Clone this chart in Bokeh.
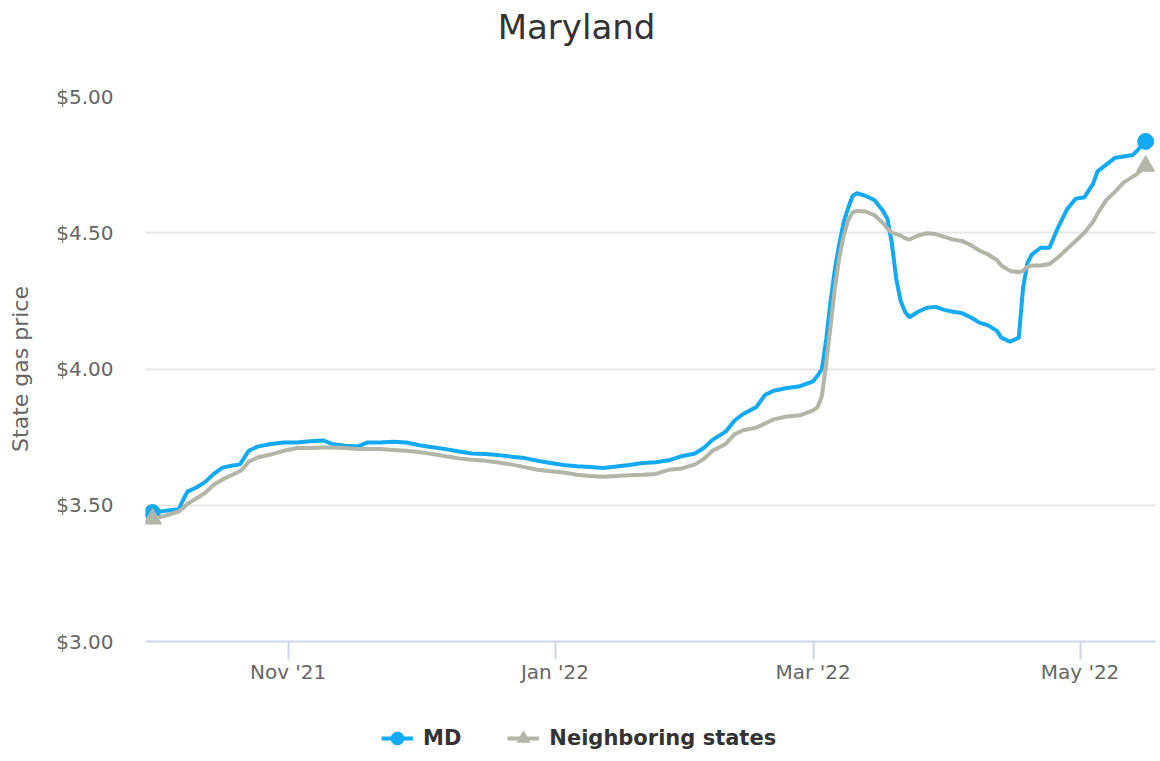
from datetime import datetime, timedelta
import pandas as pd
from bokeh.plotting import figure
from bokeh.layouts import column
from bokeh.models import (ColumnDataSource, Range1d, FixedTicker, Legend, LegendItem, Label)
from bokeh.embed import file_html
from bokeh.resources import INLINE

# ---------------- data ----------------
dates = [
    "2021-10-01", "2021-10-04", "2021-10-07", "2021-10-08", "2021-10-09", "2021-10-11", "2021-10-13",
    "2021-10-15", "2021-10-17", "2021-10-19", "2021-10-21", "2021-10-22", "2021-10-23", "2021-10-25",
    "2021-10-28", "2021-10-31",
    "2021-11-03", "2021-11-06", "2021-11-09", "2021-11-11", "2021-11-14", "2021-11-17", "2021-11-19",
    "2021-11-22", "2021-11-25", "2021-11-28",
    "2021-12-01", "2021-12-04", "2021-12-07", "2021-12-10", "2021-12-13", "2021-12-16", "2021-12-19",
    "2021-12-22", "2021-12-25", "2021-12-28", "2021-12-31",
    "2022-01-03", "2022-01-06", "2022-01-09", "2022-01-12", "2022-01-15", "2022-01-18", "2022-01-21",
    "2022-01-24", "2022-01-27", "2022-01-30",
    "2022-02-02", "2022-02-04", "2022-02-06", "2022-02-09", "2022-02-11", "2022-02-13", "2022-02-16",
    "2022-02-18", "2022-02-20", "2022-02-23", "2022-02-26",
    "2022-03-01", "2022-03-02", "2022-03-03", "2022-03-04", "2022-03-05", "2022-03-06", "2022-03-07",
    "2022-03-08", "2022-03-09", "2022-03-10", "2022-03-11", "2022-03-13", "2022-03-15", "2022-03-17",
    "2022-03-18", "2022-03-19", "2022-03-20", "2022-03-21", "2022-03-22", "2022-03-23", "2022-03-25",
    "2022-03-27", "2022-03-29", "2022-03-31",
    "2022-04-02", "2022-04-04", "2022-04-06", "2022-04-08", "2022-04-10", "2022-04-12", "2022-04-13",
    "2022-04-15", "2022-04-17", "2022-04-18", "2022-04-19", "2022-04-20", "2022-04-22", "2022-04-24",
    "2022-04-26", "2022-04-28", "2022-04-30",
    "2022-05-02", "2022-05-04", "2022-05-05", "2022-05-07", "2022-05-09", "2022-05-11", "2022-05-13",
    "2022-05-14", "2022-05-16",
]

md_price = [
    3.473, 3.48, 3.485, 3.52, 3.55, 3.565, 3.585, 3.615, 3.638, 3.645, 3.65, 3.675, 3.70, 3.715, 3.725, 3.73,
    3.73, 3.735, 3.738, 3.725, 3.718, 3.716, 3.73, 3.73, 3.733, 3.73,
    3.72, 3.713, 3.706, 3.697, 3.69, 3.688, 3.684, 3.678, 3.673, 3.663, 3.655,
    3.648, 3.643, 3.64, 3.637, 3.642, 3.648, 3.655, 3.658, 3.665, 3.68,
    3.69, 3.71, 3.74, 3.77, 3.81, 3.835, 3.86, 3.905, 3.92, 3.93, 3.937,
    3.955, 3.975, 4.00, 4.11, 4.25, 4.37, 4.46, 4.54, 4.59, 4.635, 4.645, 4.635, 4.62, 4.58, 4.55, 4.46,
    4.33, 4.25, 4.21, 4.19, 4.21, 4.225, 4.228, 4.217,
    4.21, 4.205, 4.19, 4.17, 4.16, 4.14, 4.115, 4.10, 4.115, 4.30, 4.39, 4.42, 4.445, 4.445, 4.52, 4.585, 4.625,
    4.63, 4.68, 4.725, 4.75, 4.775, 4.78, 4.785, 4.80, 4.835,
]

neighbor_price = [
    3.45, 3.462, 3.477, 3.49, 3.505, 3.525, 3.545, 3.575, 3.595, 3.61, 3.625, 3.64, 3.66, 3.675, 3.686, 3.70,
    3.71, 3.71, 3.712, 3.712, 3.71, 3.706, 3.706, 3.706, 3.703, 3.70,
    3.695, 3.688, 3.68, 3.672, 3.667, 3.663, 3.657, 3.65, 3.64, 3.63, 3.625,
    3.62, 3.612, 3.607, 3.605, 3.607, 3.61, 3.612, 3.615, 3.63, 3.635,
    3.65, 3.67, 3.70, 3.725, 3.76, 3.775, 3.785, 3.80, 3.815, 3.826, 3.83,
    3.848, 3.86, 3.90, 4.02, 4.16, 4.30, 4.41, 4.49, 4.545, 4.575, 4.58, 4.578, 4.565, 4.535, 4.515, 4.50,
    4.495, 4.49, 4.48, 4.475, 4.49, 4.498, 4.495, 4.485,
    4.475, 4.47, 4.455, 4.435, 4.42, 4.40, 4.38, 4.36, 4.355, 4.36, 4.375, 4.38, 4.38, 4.385, 4.41, 4.44, 4.47,
    4.50, 4.54, 4.57, 4.62, 4.65, 4.685, 4.705, 4.715, 4.745,
]

x_tick_dates = ["2021-11-01", "2022-01-01", "2022-03-01", "2022-05-01"]
x_tick_labels = ["Nov '21", "Jan '22", "Mar '22", "May '22"]
y_ticks = [3.0, 3.5, 4.0, 4.5, 5.0]
y_tick_labels = ["$3.00", "$3.50", "$4.00", "$4.50", "$5.00"]

series_names = ["MD", "Neighboring states"]
title_text = "Maryland"
y_axis_title = "State gas price"

# ---------------- styling ----------------
FONT = "DejaVu Sans"
BLUE = "#12a9f5"
GRAY = "#b2b6a6"
W = 1160
HEAD_H, MAIN_H, FOOT_H = 60, 635, 66

dt = pd.to_datetime(dates)
src = ColumnDataSource(dict(x=dt, md=md_price, nb=neighbor_price))
ends = ColumnDataSource(dict(x=[dt[0], dt[-1]], md=[md_price[0], md_price[-1]],
                             nb=[neighbor_price[0], neighbor_price[-1]]))

x_start = datetime(2021, 10, 1) - timedelta(days=1.6)
x_end = x_start + timedelta(days=1010 / 4.375)
x_range = Range1d(x_start, x_end)


def bare(height, xr, yr):
    f = figure(width=W, height=height, x_range=xr, y_range=yr,
               x_axis_location=None, y_axis_location=None,
               output_backend="svg", toolbar_location=None, min_border=0)
    f.outline_line_color = None
    f.grid.visible = False
    f.background_fill_color = "white"
    f.border_fill_color = "white"
    return f


# ---------------- title strip ----------------
head = bare(HEAD_H, Range1d(0, 1), Range1d(0, 1))
head.add_layout(Label(x=431, y=34, x_units="screen", y_units="screen", text=title_text,
                      text_align="center", text_baseline="alphabetic",
                      text_font=FONT, text_font_size="34px", text_color="#333333"))

# ---------------- main chart ----------------
p = figure(width=W, height=MAIN_H, x_axis_type="datetime",
           x_range=x_range, y_range=Range1d(3.0, 5.0),
           output_backend="svg", toolbar_location=None,
           min_border_left=145, min_border_right=5, min_border_top=36, min_border_bottom=54)
p.outline_line_color = None
p.background_fill_color = "white"
p.border_fill_color = "white"

def draw(fig):
    ml = fig.line("x", "md", source=src, line_color=BLUE, line_width=4)
    mp = fig.scatter("x", "md", source=ends, marker="circle", size=16, fill_color=BLUE, line_color=BLUE)
    nl = fig.line("x", "nb", source=src, line_color=GRAY, line_width=4)
    npt = fig.scatter("x", "nb", source=ends, marker="triangle", size=18, fill_color=GRAY, line_color=GRAY)
    return ml, mp, nl, npt

draw(p)

xa = p.xaxis[0]
xa.ticker = FixedTicker(ticks=[pd.Timestamp(d).value / 1e6 for d in x_tick_dates])
xa.major_label_overrides = {pd.Timestamp(d).value / 1e6: lab for d, lab in zip(x_tick_dates, x_tick_labels)}
xa.axis_line_color = "#ccd6eb"
xa.axis_line_width = 2
xa.major_tick_line_color = "#ccd6eb"
xa.major_tick_line_width = 2
xa.major_tick_out = 18
xa.major_tick_in = 0
xa.minor_tick_line_color = None
xa.major_label_text_font = FONT
xa.major_label_text_font_size = "20px"
xa.major_label_text_color = "#666666"
xa.major_label_standoff = 0

ya = p.yaxis[0]
ya.ticker = FixedTicker(ticks=y_ticks)
ya.major_label_overrides = {v: lab for v, lab in zip(y_ticks, y_tick_labels)}
ya.axis_line_color = None
ya.major_tick_line_color = None
ya.minor_tick_line_color = None
ya.major_tick_out = 0
ya.major_tick_in = 0
ya.major_label_text_font = FONT
ya.major_label_text_font_size = "20px"
ya.major_label_text_color = "#666666"
ya.major_label_standoff = 32
ya.axis_label = y_axis_title
ya.axis_label_text_font = FONT
ya.axis_label_text_font_size = "22px"
ya.axis_label_text_font_style = "normal"
ya.axis_label_text_color = "#666666"
ya.axis_label_standoff = 20

p.xgrid.grid_line_color = None
p.ygrid.ticker = FixedTicker(ticks=y_ticks)
p.ygrid.grid_line_color = "#e6e6e6"
p.ygrid.grid_line_width = 2

# ---------------- legend strip ----------------
foot = bare(FOOT_H, x_range, Range1d(10, 11))  # series drawn off-view: only legend swatches show
ml, mp, nl, npt = draw(foot)
legend = Legend(items=[LegendItem(label=series_names[0], renderers=[ml, mp]),
                       LegendItem(label=series_names[1], renderers=[nl, npt])],
                orientation="horizontal", location=(236, 6),
                glyph_width=32, glyph_height=34, label_standoff=10, spacing=46,
                padding=0, margin=0, border_line_color=None, background_fill_alpha=0,
                label_text_font=FONT, label_text_font_size="21px", label_text_font_style="bold",
                label_text_color="#333333")
foot.add_layout(legend)

layout = column(head, p, foot, spacing=0)
open("out.html", "w").write(file_html(layout, INLINE))
